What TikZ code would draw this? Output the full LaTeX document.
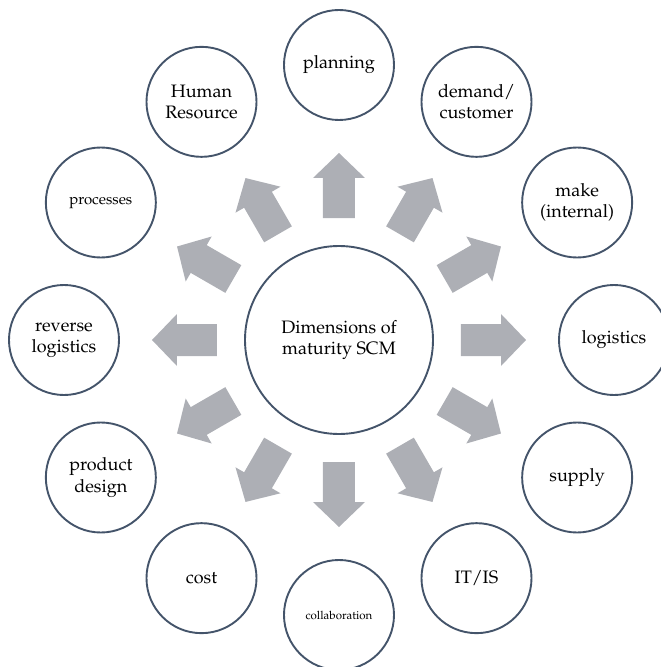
\documentclass[tikz,border=0pt]{standalone}
\usepackage[T1]{fontenc}
\renewcommand{\rmdefault}{ppl}
\definecolor{ringcol}{HTML}{44546A}
\definecolor{arrowcol}{HTML}{ADAFB5}
\begin{document}
\begin{tikzpicture}[x=1pt,y=1pt,
  ring/.style={circle, draw=ringcol, line width=1.9pt, fill=white, align=center,
    inner sep=0pt, text=black, font=\fontsize{18}{21.5}\selectfont},
  dim/.style={ring, minimum size=110pt},
  hub/.style={ring, minimum size=188pt},
  blockarrow/.style={fill=arrowcol, draw=none}]
\useasboundingbox (-339,-327) rectangle (322,340);

% block arrows radiating from the hub
\foreach \a in {0,30,...,330}{
  \begin{scope}[rotate=\a]
    \fill[blockarrow] (122,-16) -- (162,-16) -- (162,-26) -- (187,0)
      -- (162,26) -- (162,16) -- (122,16) -- cycle;
  \end{scope}
}

% hub
\node[hub] (hub) at (0,0) {Dimensions of\\maturity SCM};

% dimensions around the hub
\node[dim] (planning) at (90:275) {planning};
\node[dim] (demand) at (60:275) {demand/\\customer};
\node[dim] (make) at (30:275) {make\\(internal)};
\node[dim] (logistics) at (0:275) {logistics};
\node[dim] (supply) at (-30:275) {supply};
\node[dim] (itis) at (-60:275) {IT/IS};
\node[dim, font=\fontsize{11.5}{13}\selectfont] (collab) at (-90:275) {collaboration};
\node[dim] (cost) at (-120:275) {cost};
\node[dim] (design) at (-150:275) {product\\design};
\node[dim] (reverse) at (180:275) {reverse\\logistics};
\node[dim, font=\fontsize{15}{18}\selectfont] (processes) at (150:275) {processes};
\node[dim] (hr) at (120:275) {Human\\Resource};
\end{tikzpicture}
\end{document}
